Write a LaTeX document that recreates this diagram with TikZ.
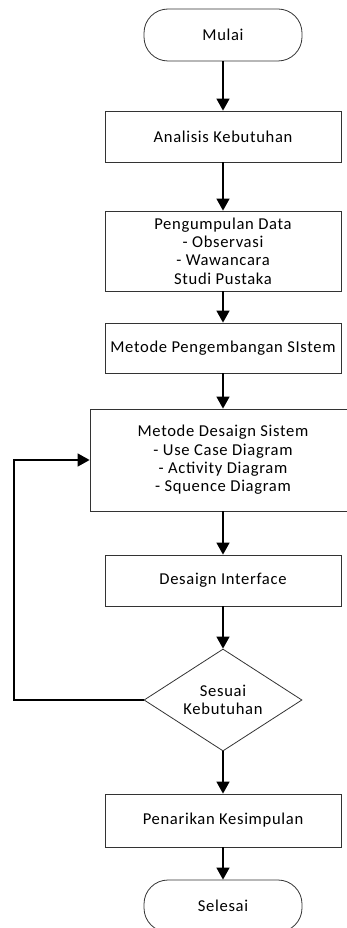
\documentclass[tikz,border=0pt]{standalone}
\usepackage{fontspec}
\newfontfamily\bagan{Carlito}[LetterSpace=4]
\usepackage{tikz}
\usetikzlibrary{shapes}
\usetikzlibrary{arrows.meta}
\tikzset{proses/.style={rectangle, draw=black!80, line width=.8pt, minimum width=236pt, align=center, inner sep=2pt, font=\bagan\fontsize{16.6}{18.3}\selectfont}}
\tikzset{terminal/.style={rectangle, draw=black!80, line width=.8pt, rounded corners=24pt, minimum width=158pt, minimum height=52pt, font=\bagan\fontsize{16.6}{18.3}\selectfont}}
\tikzset{keputusan/.style={diamond, draw=black!80, line width=.8pt, aspect=1.55, inner sep=0pt, minimum width=158pt, minimum height=102pt, align=center, font=\bagan\fontsize{16.6}{18.3}\selectfont}}
\tikzset{pijar/.style={-{Triangle[width=13pt,length=12pt]}, line width=1.4pt}}

\begin{document}
\begin{tikzpicture}[x=1pt,y=-1pt]
  \useasboundingbox (0,0) rectangle (347,928);
  \node[terminal] (mulai) at (223,35) {Mulai};
  \foreach \y/\h/\name/\lab in {
    136.5/51/{Analisis Kebutuhan}/analisis,
    251/80/{Pengumpulan Data\\- Observasi\\- Wawancara\\Studi Pustaka}/pengumpulan,
    348/50/{Metode Pengembangan SIstem}/pengembangan,
    580.5/51/{Desaign Interface}/interface,
    820.5/53/{Penarikan Kesimpulan}/penarikan%
  } {
    \node[proses, minimum height=\h pt] (\lab) at (223,\y) {\name};
  }
  \node[proses, minimum width=266pt, minimum height=102pt] (desain) at (223,460)
    {Metode Desaign Sistem\\- Use Case Diagram\\- Activity Diagram\\- Squence Diagram};
  \node[keputusan] (cek) at (223,700) {Sesuai\\Kebutuhan};
  \node[terminal] (selesai) at (223,906) {Selesai};
  \coordinate (balik) at (14,700);
  \foreach \u/\v in {
    mulai/analisis,
    analisis/pengumpulan,
    pengumpulan/pengembangan,
    pengembangan/desain,
    desain/interface,
    interface/cek,
    cek/penarikan,
    penarikan/selesai%
  }{
    \draw[pijar] (\u) -- (\v);
  }
  \draw[pijar] (cek.west) -- (balik) |- (desain.west);
\end{tikzpicture}
\end{document}
